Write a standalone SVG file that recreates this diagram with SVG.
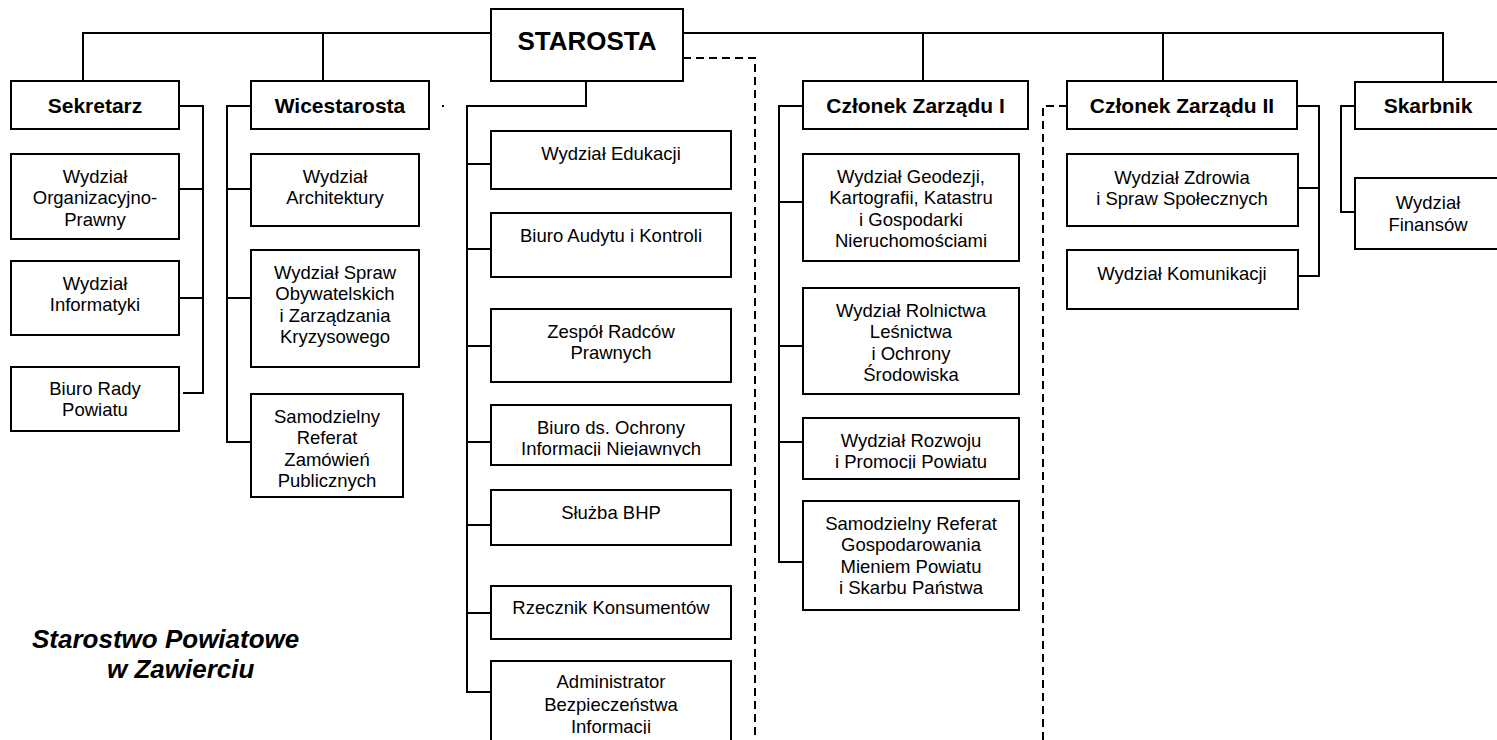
<svg xmlns="http://www.w3.org/2000/svg" width="1497" height="740" viewBox="0 0 1497 740">
<style>
.box{fill:#fff;stroke:#000;stroke-width:2}
.ln{fill:none;stroke:#000;stroke-width:2}
.dash{fill:none;stroke:#000;stroke-width:2;stroke-dasharray:8 5}
.t{font-family:"Liberation Sans",Arial,sans-serif;font-size:18.5px;fill:#000;text-anchor:middle}
.h{font-family:"Liberation Sans",Arial,sans-serif;font-size:21px;font-weight:bold;fill:#000;text-anchor:middle}
.top{font-family:"Liberation Sans",Arial,sans-serif;font-size:26px;font-weight:bold;fill:#000;text-anchor:middle}
.title{font-family:"Liberation Sans",Arial,sans-serif;font-size:26px;font-weight:bold;font-style:italic;fill:#000}
</style>
<defs>
<clipPath id="cOch"><rect x="491" y="405" width="240" height="51"/></clipPath>
<clipPath id="cRoz"><rect x="803" y="418" width="216" height="51"/></clipPath>
<clipPath id="cAdm"><rect x="491" y="661" width="240" height="73"/></clipPath>
</defs>
<rect width="1497" height="740" fill="#fff"/>
<g id="connectors">
<path class="ln" d="M83,81 V33 H1443 V82"/>
<path class="ln" d="M323,33 V81"/>
<path class="ln" d="M923,33 V81"/>
<path class="ln" d="M1163,33 V81"/>
<path class="ln" d="M179,106 H203 V393 H183 M179,189 H203 M179,298 H203"/>
<path class="ln" d="M251,106 H227 V442 H251 M227,189 H251 M227,298 H251"/>
<rect x="442" y="105" width="2" height="2" fill="#000"/>
<path class="ln" d="M586,81 V106 H467 V692 H491 M467,164 H491 M467,249 H491 M467,346 H491 M467,442 H491 M467,525 H491 M467,613 H491"/>
<path class="dash" d="M683,58 H755 V740"/>
<path class="ln" d="M803,106 H779 V562 H803 M779,202 H803 M779,346 H803 M779,442 H803"/>
<path class="dash" d="M1067,106 H1043 V740"/>
<path class="ln" d="M1297,106 H1319 V276 H1298 M1298,188 H1319"/>
<path class="ln" d="M1355,106 H1341 V212 H1355"/>
</g>
<g id="starosta"><rect class="box" x="491" y="9" width="192" height="72"/><text class="top" x="587" y="50">STAROSTA</text></g>
<g id="sekretarz"><rect class="box" x="11" y="81" width="168" height="48"/><text class="h" x="95" y="113">Sekretarz</text></g>
<g id="wicestarosta"><rect class="box" x="251" y="81" width="178" height="48"/><text class="h" x="340" y="113">Wicestarosta</text></g>
<g id="czlonek1"><rect class="box" x="803" y="81" width="225" height="48"/><text class="h" x="915.5" y="113">Członek Zarządu I</text></g>
<g id="czlonek2"><rect class="box" x="1067" y="81" width="230" height="48"/><text class="h" x="1182" y="113">Członek Zarządu II</text></g>
<g id="skarbnik"><rect class="box" x="1355" y="82" width="146" height="47"/><text class="h" x="1428" y="113">Skarbnik</text></g>

<g id="org"><rect class="box" x="11" y="154" width="168" height="85"/><text class="t" x="95" y="182.5">Wydział</text><text class="t" x="95" y="204">Organizacyjno-</text><text class="t" x="95" y="225.5">Prawny</text></g>
<g id="inf"><rect class="box" x="11" y="261" width="168" height="74"/><text class="t" x="95" y="289.5">Wydział</text><text class="t" x="95" y="310.5">Informatyki</text></g>
<g id="rady"><rect class="box" x="11" y="367" width="168" height="64"/><text class="t" x="95" y="394.5">Biuro Rady</text><text class="t" x="95" y="416">Powiatu</text></g>

<g id="arch"><rect class="box" x="251" y="154" width="168" height="72"/><text class="t" x="335" y="182.5">Wydział</text><text class="t" x="335" y="204">Architektury</text></g>
<g id="obyw"><rect class="box" x="251" y="250" width="168" height="117"/><text class="t" x="335" y="278.5">Wydział Spraw</text><text class="t" x="335" y="300">Obywatelskich</text><text class="t" x="335" y="321.5">i Zarządzania</text><text class="t" x="335" y="343">Kryzysowego</text></g>
<g id="zamow"><rect class="box" x="251" y="394" width="152" height="103"/><text class="t" x="327" y="422.5">Samodzielny</text><text class="t" x="327" y="444">Referat</text><text class="t" x="327" y="465.5">Zamówień</text><text class="t" x="327" y="487">Publicznych</text></g>

<g id="edu"><rect class="box" x="491" y="131" width="240" height="58"/><text class="t" x="611" y="159.5">Wydział Edukacji</text></g>
<g id="audyt"><rect class="box" x="491" y="213" width="240" height="64"/><text class="t" x="611" y="241.5">Biuro Audytu i Kontroli</text></g>
<g id="radcy"><rect class="box" x="491" y="309" width="240" height="73"/><text class="t" x="611" y="337.5">Zespół Radców</text><text class="t" x="611" y="358.5">Prawnych</text></g>
<g id="ochrona"><rect class="box" x="491" y="405" width="240" height="60"/><g clip-path="url(#cOch)"><text class="t" x="611" y="433.5">Biuro ds. Ochrony</text><text class="t" x="611" y="454.5">Informacji Niejawnych</text></g></g>
<g id="bhp"><rect class="box" x="491" y="490" width="240" height="55"/><text class="t" x="611" y="518.5">Służba BHP</text></g>
<g id="rzecznik"><rect class="box" x="491" y="586" width="240" height="53"/><text class="t" x="611" y="613.5">Rzecznik Konsumentów</text></g>
<g id="abi"><rect class="box" x="491" y="661" width="240" height="90"/><g clip-path="url(#cAdm)"><text class="t" x="611" y="688">Administrator</text><text class="t" x="611" y="710.5">Bezpieczeństwa</text><text class="t" x="611" y="733">Informacji</text></g></g>

<g id="geodezja"><rect class="box" x="803" y="154" width="216" height="107"/><text class="t" x="911" y="182.5">Wydział Geodezji,</text><text class="t" x="911" y="204">Kartografii, Katastru</text><text class="t" x="911" y="225.5">i Gospodarki</text><text class="t" x="911" y="247">Nieruchomościami</text></g>
<g id="rolnictwo"><rect class="box" x="803" y="288" width="216" height="106"/><text class="t" x="911" y="316.5">Wydział Rolnictwa</text><text class="t" x="911" y="338">Leśnictwa</text><text class="t" x="911" y="359.5">i Ochrony</text><text class="t" x="911" y="381">Środowiska</text></g>
<g id="rozwoj"><rect class="box" x="803" y="418" width="216" height="61"/><g clip-path="url(#cRoz)"><text class="t" x="911" y="446.5">Wydział Rozwoju</text><text class="t" x="911" y="468">i Promocji Powiatu</text></g></g>
<g id="mienie"><rect class="box" x="803" y="501" width="216" height="109"/><text class="t" x="911" y="529.5">Samodzielny Referat</text><text class="t" x="911" y="551">Gospodarowania</text><text class="t" x="911" y="572.5">Mieniem Powiatu</text><text class="t" x="911" y="594">i Skarbu Państwa</text></g>

<g id="zdrowie"><rect class="box" x="1067" y="154" width="231" height="72"/><text class="t" x="1182" y="183.5">Wydział Zdrowia</text><text class="t" x="1182" y="204.5">i Spraw Społecznych</text></g>
<g id="komunikacja"><rect class="box" x="1067" y="250" width="231" height="59"/><text class="t" x="1182" y="279.5">Wydział Komunikacji</text></g>
<g id="finanse"><rect class="box" x="1355" y="178" width="146" height="71"/><text class="t" x="1428" y="208.5">Wydział</text><text class="t" x="1428" y="230.5">Finansów</text></g>

<g id="title"><text class="title" x="32" y="648">Starostwo Powiatowe</text><text class="title" x="107" y="678">w Zawierciu</text></g>
</svg>
